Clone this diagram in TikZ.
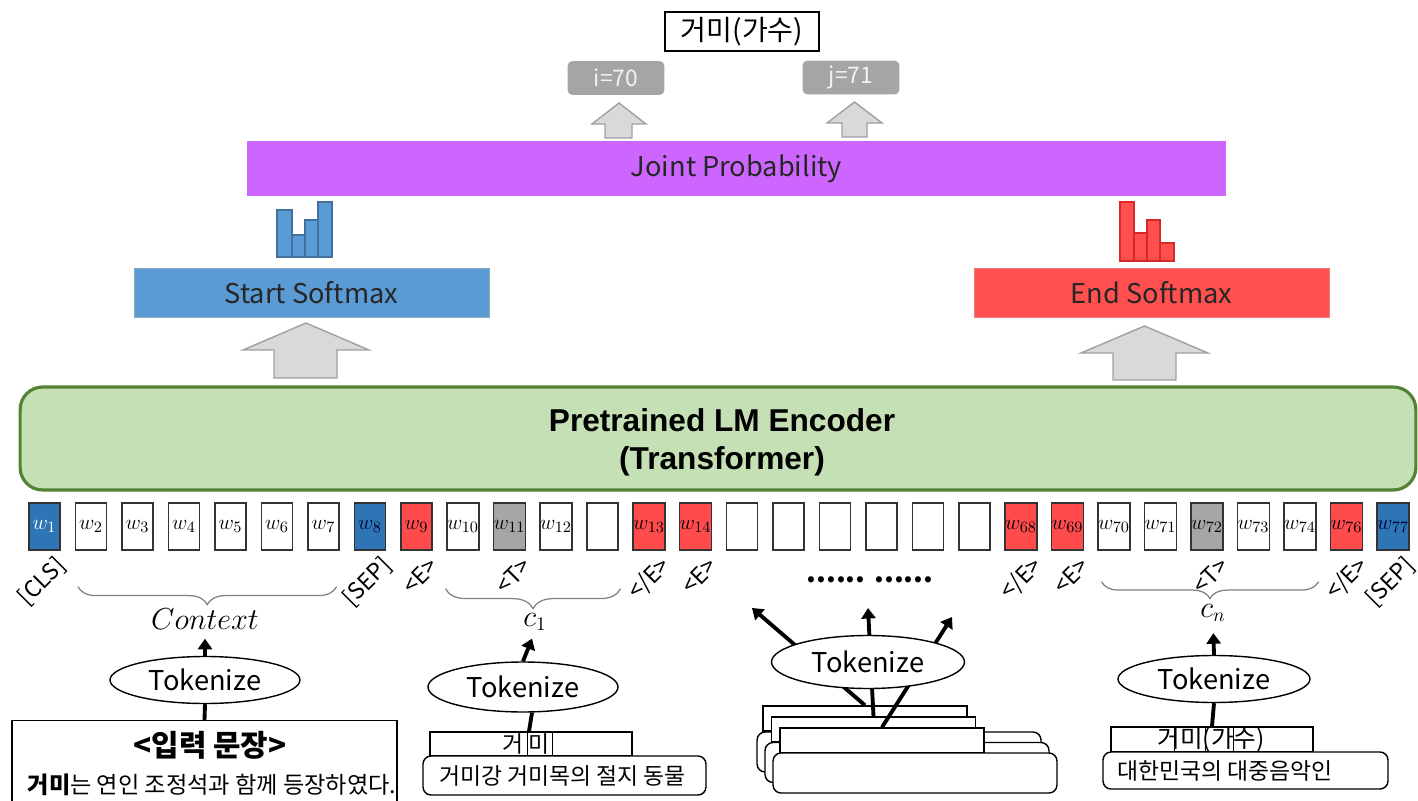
\documentclass[tikz,border=0pt]{standalone}
\usepackage[no-math]{fontspec}
\setmainfont{Noto Sans CJK KR}
\newfontfamily\encfont{Liberation Sans}
\usetikzlibrary{positioning,calc,arrows.meta,shapes.geometric,decorations.pathreplacing}

\definecolor{startblue}{HTML}{5B9BD5}
\definecolor{startline}{HTML}{41719C}
\definecolor{endred}{HTML}{FF4F4F}
\definecolor{endline}{HTML}{D62828}
\definecolor{jointpurple}{HTML}{CC66FF}
\definecolor{encgreen}{HTML}{C5E0B4}
\definecolor{encline}{HTML}{548235}
\definecolor{tokblue}{HTML}{2E75B6}
\definecolor{tokred}{HTML}{FF4B4B}
\definecolor{tokgray}{HTML}{A6A6A6}
\definecolor{idxgray}{HTML}{A5A5A5}
\definecolor{idxtext}{HTML}{F2F2F2}
\definecolor{arrowgray}{HTML}{D9D9D9}
\definecolor{arrowline}{HTML}{A0A0A0}

\begin{document}
\begin{tikzpicture}[x=0.02cm, y=-0.02cm,
    answer/.style={draw, line width=0.8pt, minimum width=3.08cm, minimum height=0.78cm, inner sep=0pt, font=\fontsize{16}{19}\selectfont},
    idxbox/.style={fill=idxgray, rounded corners=0.1cm, minimum width=1.94cm, minimum height=0.68cm, inner sep=0pt, text=idxtext, font=\fontsize{13}{15}\selectfont},
    blockarrow/.style={fill=arrowgray, draw=arrowline, line width=0.8pt},
    layer/.style={minimum width=7.1cm, minimum height=0.98cm, inner sep=0pt, text=black!85, font=\fontsize{15.5}{18}\selectfont},
    histblue/.style={fill=startblue, draw=startline, line width=0.7pt},
    histred/.style={fill=endred, draw=endline, line width=0.7pt},
    encoder/.style={draw=encline, fill=encgreen, line width=1.8pt, rounded corners=0.45cm, minimum width=27.92cm, minimum height=2.06cm},
    tok/.style={draw=black!80, line width=0.7pt, minimum width=0.62cm, minimum height=0.94cm, inner sep=0pt, font=\fontsize{12.5}{14}\selectfont},
    tokplain/.style={tok, fill=white},
    tokcls/.style={tok, fill=tokblue, text=white},
    tokblue/.style={tok, fill=tokblue, text=black!80!blue},
    tokred/.style={tok, fill=tokred},
    tokgray/.style={tok, fill=tokgray},
    tag/.style={rotate=45, anchor=east, inner sep=1pt, font=\fontsize{13}{15}\selectfont},
    grpbrace/.style={decorate, decoration={brace, mirror, amplitude=#1}, draw=gray, line width=0.7pt},
    seglabel/.style={inner sep=0pt, font=\fontsize{16}{18}\selectfont},
    tokenize/.style={ellipse, draw, fill=white, line width=0.8pt, minimum width=3.8cm, minimum height=0.94cm, inner sep=0pt, font=\fontsize{15.5}{18}\selectfont},
    tokarrow/.style={line width=2.2pt, -{Triangle[width=8pt,length=6pt]}},
    tokline/.style={line width=2.2pt},
    strip/.style={draw, fill=white, line width=0.8pt, inner sep=0pt},
    defbox/.style={draw, fill=white, line width=0.8pt, rounded corners=0.16cm, inner sep=0pt},
    kotext/.style={inner sep=0pt, font=\fontsize{13}{15}\selectfont}]
\useasboundingbox (0,0) rectangle (1418,801);

% answer span and the two indices
\node[answer] (ans) at (742,31.5) {거미(가수)};
\node[idxbox] (iidx) at (616,78) {i=70};
\node[idxbox] (jidx) at (851,77.5) {j=71};
\draw[blockarrow] (605,138) -- (605,124) -- (592,124) -- (619,103) -- (646,124) -- (632,124) -- (632,138) -- cycle;
\draw[blockarrow] (842,137) -- (842,123) -- (827,123) -- (854.5,102) -- (882,123) -- (867,123) -- (867,137) -- cycle;

\node[fill=jointpurple, minimum width=19.58cm, minimum height=1.1cm, inner sep=0pt, text=black!85, font=\fontsize{15.5}{18}\selectfont] (joint) at (736.5,168.5) {Joint Probability};

% start / end distributions
\foreach \a/\b/\h in {277/292/210, 292/305/235, 305/318/220, 318/332/202}
    \draw[histblue] (\a,257) rectangle (\b,\h);
\foreach \a/\b/\h in {1120/1134/202, 1134/1147/233, 1147/1160/220, 1160/1174/243}
    \draw[histred] (\a,261) rectangle (\b,\h);

\node[layer, fill=startblue, draw=startline!60] (startsm) at (311.5,292.5) {Start Softmax};
\node[layer, fill=endred, draw=endline!60] (endsm) at (1151.5,292.5) {End Softmax};

\draw[blockarrow] (274,378) -- (274,350) -- (243,350) -- (306,323) -- (369,350) -- (337,350) -- (337,378) -- cycle;
\draw[blockarrow] (1113,380) -- (1113,353) -- (1081,353) -- (1144.5,326) -- (1208,353) -- (1176,353) -- (1176,380) -- cycle;

\node[encoder] (enc) at (718,438.5) {};
\node[align=center, font=\encfont\bfseries\fontsize{18}{21.6}\selectfont] (encText) at (722,442) {Pretrained LM Encoder\\(Transformer)};

% input tokens
\foreach \i/\lab/\sty in {0/$w_{1}$/tokcls, 1/$w_{2}$/tokplain, 2/$w_{3}$/tokplain, 3/$w_{4}$/tokplain,
        4/$w_{5}$/tokplain, 5/$w_{6}$/tokplain, 6/$w_{7}$/tokplain, 7/$w_{8}$/tokblue, 8/$w_{9}$/tokred,
        9/$w_{10}$/tokplain, 10/$w_{11}$/tokgray, 11/$w_{12}$/tokplain, 12//tokplain, 13/$w_{13}$/tokred,
        14/$w_{14}$/tokred, 15//tokplain, 16//tokplain, 17//tokplain, 18//tokplain, 19//tokplain,
        20//tokplain, 21/$w_{68}$/tokred, 22/$w_{69}$/tokred, 23/$w_{70}$/tokplain, 24/$w_{71}$/tokplain,
        25/$w_{72}$/tokgray, 26/$w_{73}$/tokplain, 27/$w_{74}$/tokplain, 28/$w_{76}$/tokred, 29/$w_{77}$/tokblue}
    \node[style=\sty] (t\i) at ({44.5+46.5*\i},526.5) {\lab};

\foreach \i/\tg in {0/{[CLS]}, 7/{[SEP]}, 8/{<E>}, 10/{<T>}, 13/{</E>}, 14/{<E>},
        21/{</E>}, 22/{<E>}, 25/{<T>}, 28/{</E>}, 29/{[SEP]}}
    \node[tag] (tg\i) at ($(t\i.south)+(19,10)$) {\tg};

\draw[grpbrace=0.36cm] ($(t1.south west)+(3,36)$) -- ($(t6.south east)+(-3,36)$);
\draw[grpbrace=0.4cm] ($(t9.south west)+(-1,38)$) -- ($(t12.south east)+(2,38)$);
\draw[grpbrace=0.34cm] ($(t23.south west)+(4,31)$) -- ($(t27.south east)+(2,31)$);

\node[seglabel] (ctx) at (205,619) {$Context$};
\node[seglabel] (c1lab) at (535,622) {$c_1$};
\node[seglabel] (cnlab) at (1213,613) {$c_n$};
\node[seglabel, font=\bfseries\fontsize{16}{18}\selectfont] (dots) at (870,580) {...... ......};

% context sentence
\node[tokenize] (tokA) at (205,680) {Tokenize};
\draw[tokarrow, shorten >=0.18cm] (tokA.north) -- (ctx.south);
\node[draw, line width=0.8pt, minimum width=7.7cm, minimum height=1.9cm, anchor=north] (input) at (204.5,720) {};
\draw[tokline] (tokA.south) -- (input.north);
\node[font=\bfseries\fontsize{17}{20}\selectfont] (inTitle) at (210,745) {<입력 문장>};
\node[font=\fontsize{13.2}{16}\selectfont] (inSent) at (212,785) {{\bfseries 거미}는 연인 조정석과 함께 등장하였다.};

% first candidate
\node[tokenize, minimum height=1cm] (tokB) at (523,687) {Tokenize};
\draw[tokarrow, shorten >=0.16cm] (tokB.north) -- (c1lab.south);
\node[strip, minimum width=4.04cm, minimum height=0.48cm] (stripA) at (531,744) {};
\draw (527,732) -- (527,756) (552,732) -- (552,756);
\node[kotext, anchor=east] (stripAa) at (524,744) {거};
\node[kotext] (stripAb) at (539.5,744) {미};
\node[defbox, minimum width=5.66cm, minimum height=0.78cm] (defA) at (564.5,775.5) {};
\node[kotext, anchor=west] (defAtext) at (439,775.5) {거미강 거미목의 절지 동물};
\draw[tokline] ($(tokB.south)+(9,0)$) -- ($(stripA.north)+(-2,0)$);

% remaining candidates
\foreach \k in {0,1,2} {
    \node[strip, minimum width=4.08cm, minimum height=0.5cm] (stackS\k) at ({865+8.5*\k},{718.5+11*\k}) {};
    \node[defbox, minimum width=5.68cm, minimum height=0.8cm] (stackD\k) at ({899+8*\k},{752+10.5*\k}) {};
}
\coordinate (outL) at (752,608);
\coordinate (outM) at (868,608);
\coordinate (outR) at (952,617);
\draw[tokarrow] (stackS0.north) -- (outL);
\draw[tokarrow] (stackS1.north) -- (outM);
\draw[tokarrow] (stackS2.north) -- (outR);
\node[tokenize, minimum width=3.86cm, minimum height=1.06cm] (tokC) at (868,662) {Tokenize};

% last candidate
\node[tokenize, minimum width=3.84cm] (tokD) at (1214,679) {Tokenize};
\draw[tokarrow, shorten >=0.22cm] (tokD.north) -- (cnlab.south);
\node[strip, minimum width=4.04cm, minimum height=0.5cm] (stripD) at (1212,739.5) {};
\draw (1174,727) -- (1174,752) (1205,727) -- (1205,752) (1233,727) -- (1233,752);
\node[kotext, font=\fontsize{14}{16}\selectfont] (stripDtext) at (1211,740) {거미(가수)};
\node[defbox, minimum width=5.7cm, minimum height=0.74cm] (defD) at (1245.5,770.5) {};
\node[kotext, anchor=west] (defDtext) at (1117,770.5) {대한민국의 대중음악인};
\draw[tokline] (tokD.south) -- (stripD.north);
\end{tikzpicture}
\end{document}
